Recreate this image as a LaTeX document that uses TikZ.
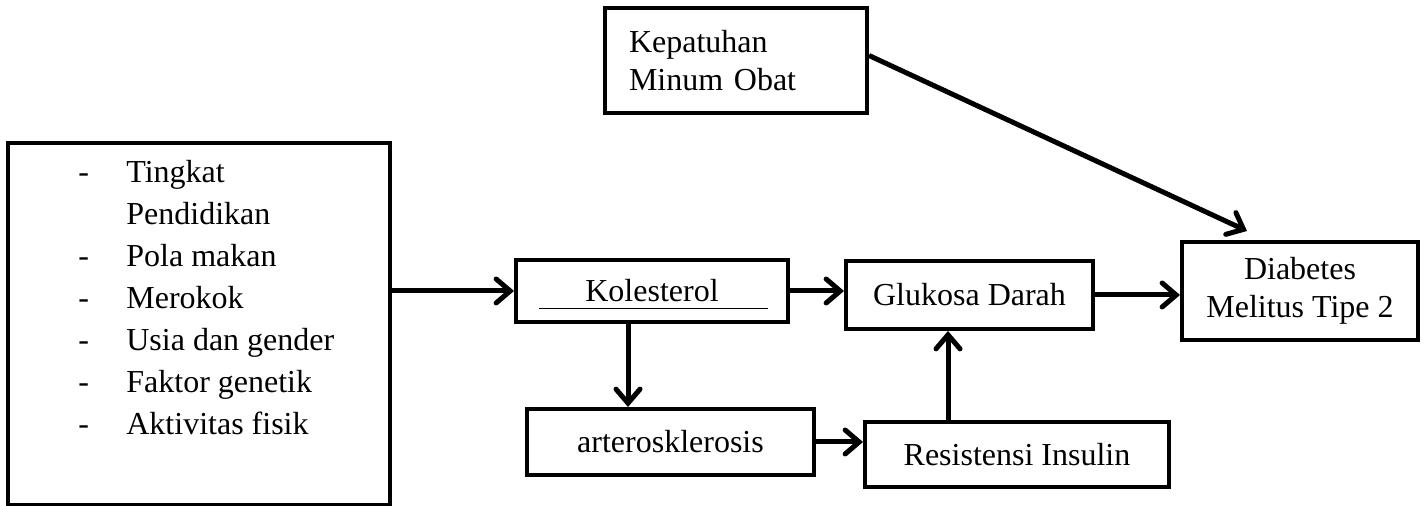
\documentclass[tikz,border=0pt]{standalone}
\usepackage{fontspec}
\setmainfont{Liberation Serif}
\usetikzlibrary{arrows.meta,calc}
\newcommand{\isifont}{\fontsize{16}{19}\selectfont}
\newcommand{\panah}{-{Straight Barb[length=7pt,width=12pt,line cap=round]}}

\begin{document}
\begin{tikzpicture}[x=0.5pt,y=-0.5pt,
  kotak/.style={draw,line width=2pt,inner sep=0pt,font=\isifont},
  garis/.style={line width=2.5pt,\panah}]

 \useasboundingbox (0,0) rectangle (1424,506);

   \node[kotak,minimum width=191pt,minimum height=181pt] (faktor) at (199,324) {};
   \node[anchor=north west,inner sep=0pt,font=\fontsize{16}{21}\selectfont] (daftar) at (78,153)
     {\begin{tabular}{@{}p{24pt}@{}l@{}}
       - & Tingkat\\
         & Pendidikan\\
       - & Pola makan\\
       - & Merokok\\
       - & Usia dan gender\\
       - & Faktor genetik\\
       - & Aktivitas fisik
     \end{tabular}};

   \node[kotak,minimum width=131pt,minimum height=52.5pt,text width=107pt,align=left] (patuh) at (736,60.5)
     {Kepatuhan\\Minum Obat};
   \node[kotak,minimum width=136pt,minimum height=31pt] (kol) at (652,291) {Kolesterol};
   \node[kotak,minimum width=123.5pt,minimum height=34pt] (glu) at (969.5,295) {Glukosa Darah};
   \node[kotak,minimum width=118pt,minimum height=49pt,align=center] (dm) at (1300,291)
     {Diabetes\\Melitus Tipe 2};
   \node[kotak,minimum width=143.5pt,minimum height=33pt] (arter) at (670.5,442) {arterosklerosis};
   \node[kotak,minimum width=152pt,minimum height=32.5pt] (resist) at (1017,454.5) {Resistensi Insulin};

   % garis bawah kolesterol
   \draw[line width=0.5pt] (539,309) -- (768,309);

   \coordinate (ujung) at ([shift={(-26.5pt,4.5pt)}]dm.north);

   \draw[garis] (faktor.east |- kol.west) -- (kol.west);
   \draw[garis] (kol.east) -- (kol.east -| glu.west);
   \draw[garis] (glu.east) -- (glu.east -| dm.west);
   \draw[garis] ([xshift=-12pt]kol.south) -- ([xshift=-12pt]kol.south |- arter.north);
   \draw[garis] (arter.east) -- (arter.east -| resist.west);
   \draw[garis] ([xshift=-34.5pt]resist.north) -- ([xshift=-34.5pt]resist.north |- glu.south);
   \draw[garis] ([yshift=2.5pt]patuh.east) -- (ujung);

 \end{tikzpicture}
\end{document}
